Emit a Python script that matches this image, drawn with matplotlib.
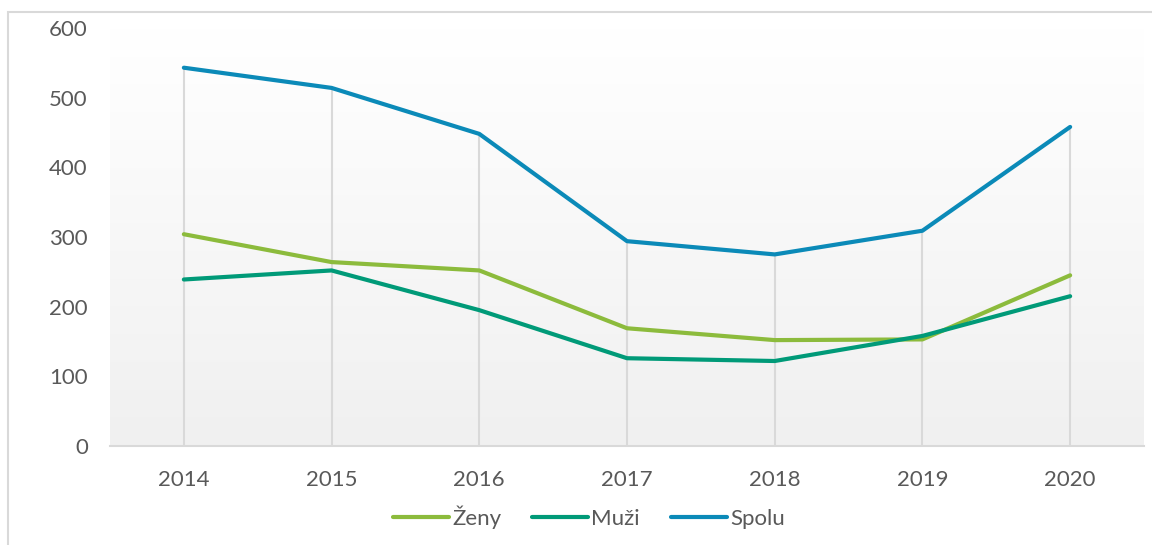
import matplotlib
matplotlib.use("Agg")
import matplotlib.pyplot as plt
import numpy as np
from matplotlib.patches import Rectangle
from matplotlib.colors import LinearSegmentedColormap

years = ["2014", "2015", "2016", "2017", "2018", "2019", "2020"]
zeny = [304, 264, 252, 169, 152, 153, 245]
muzi = [239, 252, 195, 126, 122, 158, 215]
spolu = [543, 514, 448, 294, 275, 309, 458]
yticks = [0, 100, 200, 300, 400, 500, 600]

plt.rcParams['font.family'] = ['Lato', 'DejaVu Sans']
txt = '#595959'

fig = plt.figure(figsize=(11.52, 5.45), dpi=100)
W, H = 1152, 545
left, right = 110 / W, 1144 / W
bottom, top = 1 - 446 / H, 1 - 28 / H
ax = fig.add_axes([left, bottom, right - left, top - bottom])

# outer border
fig.patches.append(Rectangle((8 / W, -0.01), 1.2, 1 - 12 / H + 0.01, transform=fig.transFigure,
                             fill=False, edgecolor='#d9d9d9', linewidth=1.5, zorder=0))

x = np.arange(len(years))
ax.set_xlim(-0.5, len(years) - 0.5)
ax.set_ylim(0, 600)

# gradient background
grad = np.linspace(0, 1, 256).reshape(-1, 1)
cmap = LinearSegmentedColormap.from_list('g', ['#f0f0f0', '#ffffff'])
ax.imshow(grad, aspect='auto', cmap=cmap, extent=[-0.5, len(years) - 0.5, 0, 600],
          origin='lower', zorder=0)

# drop lines from highest series to axis
tops = np.maximum(np.maximum(zeny, muzi), spolu)
ax.vlines(x, 0, tops, color='#d9d9d9', linewidth=1.5, zorder=1)

ax.plot(x, zeny, color='#8cbb3c', linewidth=3, label='Ženy', zorder=3, solid_capstyle='round')
ax.plot(x, muzi, color='#009a78', linewidth=3, label='Muži', zorder=3, solid_capstyle='round')
ax.plot(x, spolu, color='#0b8ab8', linewidth=3, label='Spolu', zorder=3, solid_capstyle='round')

for s in ['top', 'right', 'left']:
    ax.spines[s].set_visible(False)
ax.spines['bottom'].set_color('#d9d9d9')
ax.spines['bottom'].set_linewidth(1.5)

ax.set_xticks(x)
ax.set_xticklabels(years)
ax.set_yticks(yticks)
ax.tick_params(axis='both', length=0, labelsize=16, colors=txt)
ax.tick_params(axis='x', pad=17)
ax.tick_params(axis='y', pad=16)

leg = fig.legend(loc='center', bbox_to_anchor=(589 / W, 1 - 517 / H), ncol=3, frameon=False,
                 fontsize=16, handlelength=2.5, handletextpad=0.15, columnspacing=1.4)
for t in leg.get_texts():
    t.set_color(txt)

fig.savefig('out.png', dpi=100)
